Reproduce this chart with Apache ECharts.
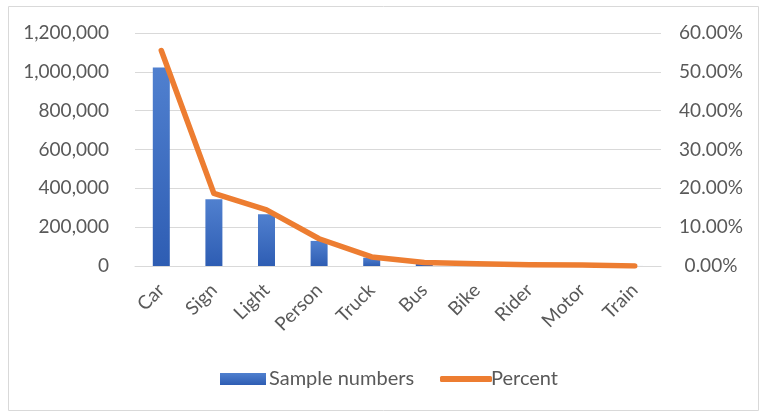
<!DOCTYPE html>
<html>
<head>
<meta charset="utf-8">
<script src="https://cdn.jsdelivr.net/npm/echarts@6/dist/echarts.min.js"></script>
<style>
  html, body { margin: 0; padding: 0; background: #fff; }
  #chart { width: 765px; height: 417px; }
</style>
</head>
<body>
<div id="chart"></div>
<script>
// 类别与数值
const categories = ['Car', 'Sign', 'Light', 'Person', 'Truck', 'Bus', 'Bike', 'Rider', 'Motor', 'Train']
const sampleNumbers = [1021857, 343777, 265906, 129262, 42963, 16505, 10229, 6461, 4296, 179]
const percentValues = [0.5549, 0.1867, 0.1444, 0.0702, 0.0233, 0.0090, 0.0056, 0.0035, 0.0023, 0.0001]

const labelColor = '#595959'
const font = 'Lato, "Open Sans", sans-serif'

const chart = echarts.init(document.getElementById('chart'))
chart.setOption({
  animation: false,
  graphic: [{
    type: 'rect',
    shape: { x: 8.5, y: 6.5, width: 750, height: 404 },
    style: { fill: 'none', stroke: '#d9d9d9', lineWidth: 1 },
    silent: true
  }],
  grid: { left: 135, right: 104, top: 33, bottom: 151 },
  legend: [{
    data: ['Sample numbers'],
    left: 215, top: 364,
    itemWidth: 46, itemHeight: 12, itemGap: 4,
    icon: 'rect',
    textStyle: { color: labelColor, fontSize: 20, fontFamily: font, padding: [0, 0, 0, -2] }
  }, {
    data: [{ name: 'Percent', icon: 'roundRect' }],
    left: 435, top: 364,
    itemWidth: 52, itemHeight: 6,
    textStyle: { color: labelColor, fontSize: 20, fontFamily: font, padding: [0, 0, 0, -6] }
  }],
  xAxis: {
    type: 'category',
    data: categories,
    axisLine: { lineStyle: { color: '#d9d9d9' } },
    axisTick: { show: false },
    axisLabel: { rotate: 45, color: labelColor, fontSize: 19, fontFamily: font, margin: 21, interval: 0 }
  },
  yAxis: [{
    type: 'value',
    min: 0, max: 1200000, interval: 200000,
    axisLine: { show: false },
    axisTick: { show: false },
    splitLine: { lineStyle: { color: '#d9d9d9' } },
    axisLabel: {
      color: labelColor, fontSize: 19, fontFamily: font, margin: 26,
      formatter: v => v.toLocaleString('en-US')
    }
  }, {
    type: 'value',
    min: 0, max: 0.6, interval: 0.1,
    axisLine: { show: false },
    axisTick: { show: false },
    splitLine: { show: false },
    axisLabel: {
      color: labelColor, fontSize: 19, fontFamily: font, margin: 50, align: 'center',
      formatter: v => (v * 100).toFixed(2) + '%'
    }
  }],
  series: [{
    name: 'Sample numbers',
    type: 'bar',
    data: sampleNumbers,
    barWidth: 17,
    itemStyle: {
      color: new echarts.graphic.LinearGradient(0, 0, 0, 1, [
        { offset: 0, color: '#5080cf' },
        { offset: 1, color: '#2e5db3' }
      ])
    }
  }, {
    name: 'Percent',
    type: 'line',
    yAxisIndex: 1,
    data: percentValues,
    symbol: 'none',
    lineStyle: { color: '#ed7d31', width: 5.5, join: 'round', cap: 'round' },
    itemStyle: { color: '#ed7d31' }
  }]
})
</script>
</body>
</html>
